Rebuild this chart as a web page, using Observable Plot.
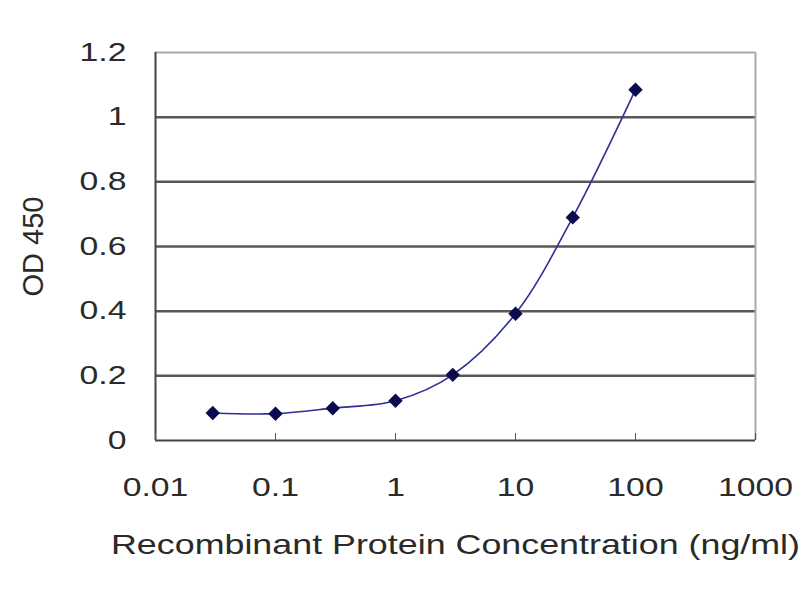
<!DOCTYPE html>
<html>
<head>
<meta charset="utf-8">
<script src="https://cdn.jsdelivr.net/npm/d3@7"></script>
<script src="https://cdn.jsdelivr.net/npm/@observablehq/plot@0.6"></script>
<style>
  body { margin: 0; background: #fff; }
  #chart text { font-family: "Liberation Sans", Arial, sans-serif; fill: #2a2a2a; }
</style>
</head>
<body>
<div id="chart"></div>
<script>
// concentracion (ng/ml) y lectura OD 450
const conc = [0.03, 0.1, 0.3, 1, 3, 10, 30, 100]
const od = [0.085, 0.083, 0.1, 0.123, 0.203, 0.392, 0.69, 1.085]
const xTicks = [0.01, 0.1, 1, 10, 100, 1000]
const yTicks = [0, 0.2, 0.4, 0.6, 0.8, 1, 1.2]

const data = conc.map((c, i) => ({ conc: c, od: od[i] }))

let chart = Plot.plot({
  width: 800,
  height: 600,
  marginLeft: 155,
  marginRight: 45,
  marginTop: 52,
  marginBottom: 160,
  style: { fontSize: "25px", background: "#fff" },
  x: { type: "log", domain: [0.01, 1000] },
  y: { domain: [0, 1.2] },
  marks: [
    // lineas de grilla
    Plot.ruleY(yTicks.filter(d => d > 0 && d < 1.2), { stroke: "#585858", strokeWidth: 2.5 }),
    Plot.ruleY([1.2], { stroke: "#aaa", strokeWidth: 2 }),
    Plot.ruleX([1000], { stroke: "#aaa", strokeWidth: 2 }),
    Plot.ruleX([0.01], { stroke: "#444", strokeWidth: 2 }),
    Plot.ruleY([0], { stroke: "#444", strokeWidth: 2 }),
    Plot.axisX({
      ticks: xTicks, tickSize: -7, tickPadding: 45, stroke: "#555",
      fontSize: 25,
      tickFormat: d => String(d),
      label: "Recombinant Protein Concentration (ng/ml)",
      labelAnchor: "center", labelArrow: "none", labelOffset: 113
    }),
    Plot.axisY({
      ticks: yTicks, tickSize: 0, tickPadding: 29,
      fontSize: 25,
      tickFormat: d => String(d),
      label: "OD 450", labelAnchor: "center", labelArrow: "none", labelOffset: 133
    }),
    Plot.line(data, { x: "conc", y: "od", stroke: "#2e2e96", strokeWidth: 1.6, curve: "catmull-rom" }),
    Plot.dot(data, { x: "conc", y: "od", symbol: "diamond2", fill: "#0b0b4f", r: 6.5 })
  ]
})

d3.select('#chart').append(() => chart)

// el texto original viene estirado a lo ancho
d3.select(chart).selectAll("text").each(function () {
  const t = d3.select(this)
  if (t.text() === "OD 450") { t.style("font-size", "29px"); return }
  const title = t.text().startsWith("Recombinant")
  if (title) t.style("font-size", "28px")
  const w = this.getComputedTextLength()
  t.attr("textLength", title ? 689 : w * 1.35).attr("lengthAdjust", "spacingAndGlyphs")
})
</script>
</body>
</html>
